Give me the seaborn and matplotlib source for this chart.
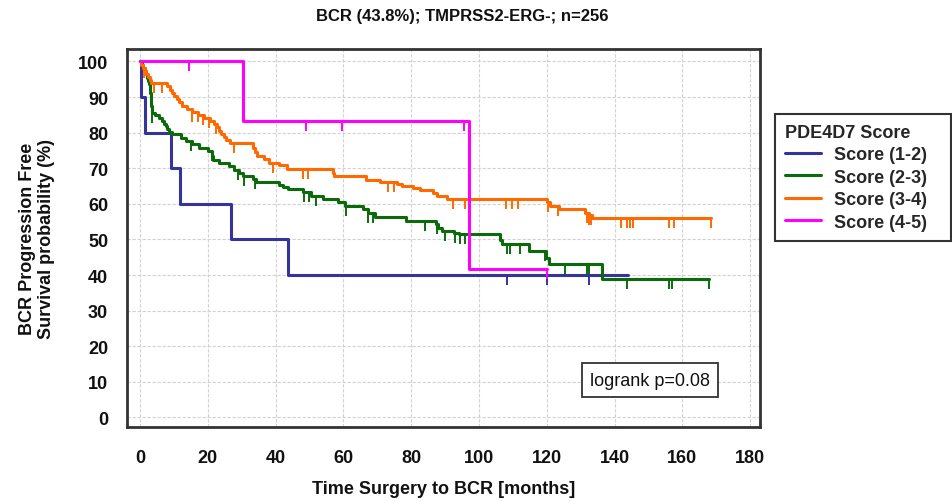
import numpy as np
import pandas as pd
import matplotlib
matplotlib.use("Agg")
import matplotlib.pyplot as plt
import seaborn as sns

# Kaplan-Meier curves by PDE4D7 score group (months, survival %)
groups = ["Score (1-2)", "Score (2-3)", "Score (3-4)", "Score (4-5)"]
colors = ["#34349a", "#0b6b0b", "#ff6a00", "#ff00ff"]

t_12 = [0, 0.2, 1.5, 9.1, 11.7, 26.8, 43.6, 144.0]
s_12 = [100, 90, 80, 70, 60, 50, 40, 40]
c_12 = [108.3, 120.0, 132.6]

t_23 = [0, 0.5, 1.0, 1.5, 1.9, 2.2, 2.5, 2.7,
        2.9, 3.05, 3.2, 3.35, 3.5, 4.6, 5.6, 6.6,
        7.1, 7.6, 8.1, 8.6, 9.6, 12.0, 13.5, 15.5,
        17.5, 20.0, 21.3, 21.7, 23.4, 26.3, 27.8, 29.3,
        30.3, 33.4, 34.2, 41.1, 42.1, 43.6, 48.1, 50.5,
        54.0, 58.4, 60.4, 65.8, 67.3, 69.3, 78.5, 87.3,
        87.8, 89.0, 92.5, 94.0, 106.1, 106.8, 114.7, 119.9,
        120.6, 136.4, 168.0]
s_23 = [100, 99.1, 98.2, 97.3, 96.4, 95.4, 94.5, 93.6,
        92.7, 91.0, 89.2, 87.4, 85.6, 85.0, 84.2, 83.3,
        82.5, 81.8, 80.9, 80.2, 79.5, 78.6, 77.6, 76.7,
        75.8, 74.8, 73.4, 72.3, 71.5, 70.6, 69.4, 68.8,
        67.7, 66.9, 66.0, 65.3, 64.6, 64.1, 63.2, 62.3,
        61.3, 60.4, 59.5, 58.5, 57.3, 56.4, 55.3, 54.2,
        53.3, 52.4, 51.9, 51.4, 49.7, 48.7, 46.8, 44.9,
        43.1, 39.0, 39.0]
c_23 = [3.6, 15.2, 21.2, 29.0, 30.8, 33.9, 48.4, 50.0, 51.9, 60.7, 67.4,
        68.8, 84.0, 87.5, 90.0, 93.0, 94.5, 95.8, 108.3, 109.2, 112.2,
        119.5, 125.5, 132.0, 132.6, 143.8, 156.0, 156.8, 168.0]

t_34 = [0, 0.4, 0.9, 1.4, 1.9, 2.4, 2.9, 3.4,
        8.1, 8.8, 9.6, 10.2, 10.8, 11.5, 12.5, 13.8,
        15.5, 17.2, 19.0, 20.6, 21.9, 22.6, 23.2, 23.9,
        24.7, 25.4, 26.5, 33.5, 33.9, 34.5, 36.7, 38.2,
        41.1, 43.4, 56.9, 57.4, 66.6, 70.8, 75.7, 77.2,
        80.6, 82.6, 86.6, 87.5, 90.5, 120.1, 121.0, 123.5,
        131.4, 132.4, 133.4, 168.4]
s_34 = [100, 99.1, 98.3, 97.4, 96.5, 95.7, 94.8, 93.9,
        93.0, 92.1, 91.2, 90.3, 89.4, 88.5, 87.6, 86.7,
        85.8, 84.9, 84.1, 83.3, 82.4, 81.5, 80.6, 79.7,
        78.8, 77.9, 77.0, 75.8, 74.6, 73.4, 72.5, 71.6,
        70.8, 69.8, 68.8, 67.8, 66.8, 66.1, 65.5, 64.9,
        64.4, 63.9, 63.1, 62.3, 61.4, 60.4, 59.5, 58.5,
        57.5, 56.8, 56.1, 56.1]
c_34 = [1.2, 4.1, 6.4, 15.5, 17.0, 18.5, 20.4, 22.4, 27.9, 39.2, 48.1,
        49.6, 73.2, 74.9, 92.3, 95.9, 108.0, 109.7, 111.6, 120.3, 123.2,
        131.8, 132.6, 133.1, 141.8, 143.8, 144.6, 145.4, 156.2, 157.6, 168.4]

t_45 = [0, 30.3, 97.1, 120.0]
s_45 = [100, 83.3, 41.7, 41.7]
c_45 = [14.5, 49.0, 59.6, 95.6, 120.0]

x_ticks = list(range(0, 181, 20))
y_ticks = list(range(0, 101, 10))

title = "BCR (43.8%); TMPRSS2-ERG-; n=256"
x_label = "Time Surgery to BCR [months]"
y_label = "BCR Progression Free\nSurvival probability (%)"
legend_title = "PDE4D7 Score"
logrank_text = "logrank p=0.08"

sns.set_style("white")
plt.rcParams["font.family"] = ["Liberation Sans", "DejaVu Sans"]

W, H = 952, 502
fig = plt.figure(figsize=(W / 100, H / 100), dpi=100)
ax = fig.add_axes([127 / W, 74 / H, 633 / W, 378 / H])

curves = [(t_12, s_12, c_12), (t_23, s_23, c_23), (t_34, s_34, c_34), (t_45, s_45, c_45)]
handles = []
for name, col, (t, s, cens) in zip(groups, colors, curves):
    df = pd.DataFrame({"t": t, "s": s})
    sns.lineplot(data=df, x="t", y="s", color=col, linewidth=2.2,
                 drawstyle="steps-post", estimator=None, sort=False,
                 ax=ax, label=name)
    handles.append(ax.get_lines()[-1])
    # censored observations as downward ticks on the curve
    t_arr = np.asarray(t)
    s_arr = np.asarray(s)
    idx = np.searchsorted(t_arr, cens, side="right") - 1
    ax.plot(cens, s_arr[idx], linestyle="none", marker=3, markersize=7,
            markeredgewidth=1.4, color=col)

ax.set_xlim(-3.8, 182.9)
ax.set_ylim(-2.7, 103.5)
ax.set_xticks(x_ticks)
ax.set_yticks(y_ticks)
ax.set_yticks([v + 5 for v in y_ticks[:-1]], minor=True)
ax.grid(True, which="major", color="#d2d2d2", linestyle=(0, (3, 1.5)), linewidth=0.8)
ax.set_axisbelow(True)

ax.tick_params(axis="both", which="major", direction="out", length=8.5, width=1.5,
               color="#333333", labelsize=13, labelcolor="#111111")
ax.tick_params(axis="x", which="major", pad=7)
ax.tick_params(axis="y", which="major", pad=5)
ax.tick_params(axis="y", which="minor", direction="out", length=5, width=1.3,
               color="#333333")
for lab in ax.get_xticklabels() + ax.get_yticklabels():
    lab.set_fontweight("bold")
for sp in ax.spines.values():
    sp.set_visible(True)
    sp.set_linewidth(2)
    sp.set_color("#333333")

ax.set_xlabel(x_label, fontsize=13, fontweight="bold", color="#111111")
ax.xaxis.label.set_va("center")
ax.xaxis.set_label_coords(0.5, (428 - 490) / 378)
ax.set_ylabel(y_label, fontsize=13, fontweight="bold", color="#111111",
              multialignment="center")
ax.yaxis.label.set_va("center")
ax.yaxis.set_label_coords((37 - 127) / 633, 0.5)

fig.text(462.5 / W, 1 - 17 / H, title, ha="center", va="center",
         fontsize=12, fontweight="bold", color="#111111")

ax.text(150.5, 10.5, logrank_text, ha="center", va="center", fontsize=13,
        color="#111111",
        bbox=dict(boxstyle="square,pad=0.45", fc="white", ec="#333333", lw=1.3))

leg = ax.legend(handles=handles, labels=groups, title=legend_title,
                loc="upper left",
                bbox_to_anchor=(775 / W, 1 - 115 / H, 176 / W, 0),
                bbox_transform=fig.transFigure, mode="expand", borderaxespad=0,
                prop={"weight": "bold", "size": 13},
                title_fontproperties={"weight": "bold", "size": 13},
                alignment="left", frameon=True, fancybox=False,
                edgecolor="#333333", framealpha=1, handlelength=2.0,
                handletextpad=0.7, labelspacing=0.3, borderpad=0.55)
leg.get_frame().set_linewidth(1.5)

fig.savefig("out.png", dpi=100)
